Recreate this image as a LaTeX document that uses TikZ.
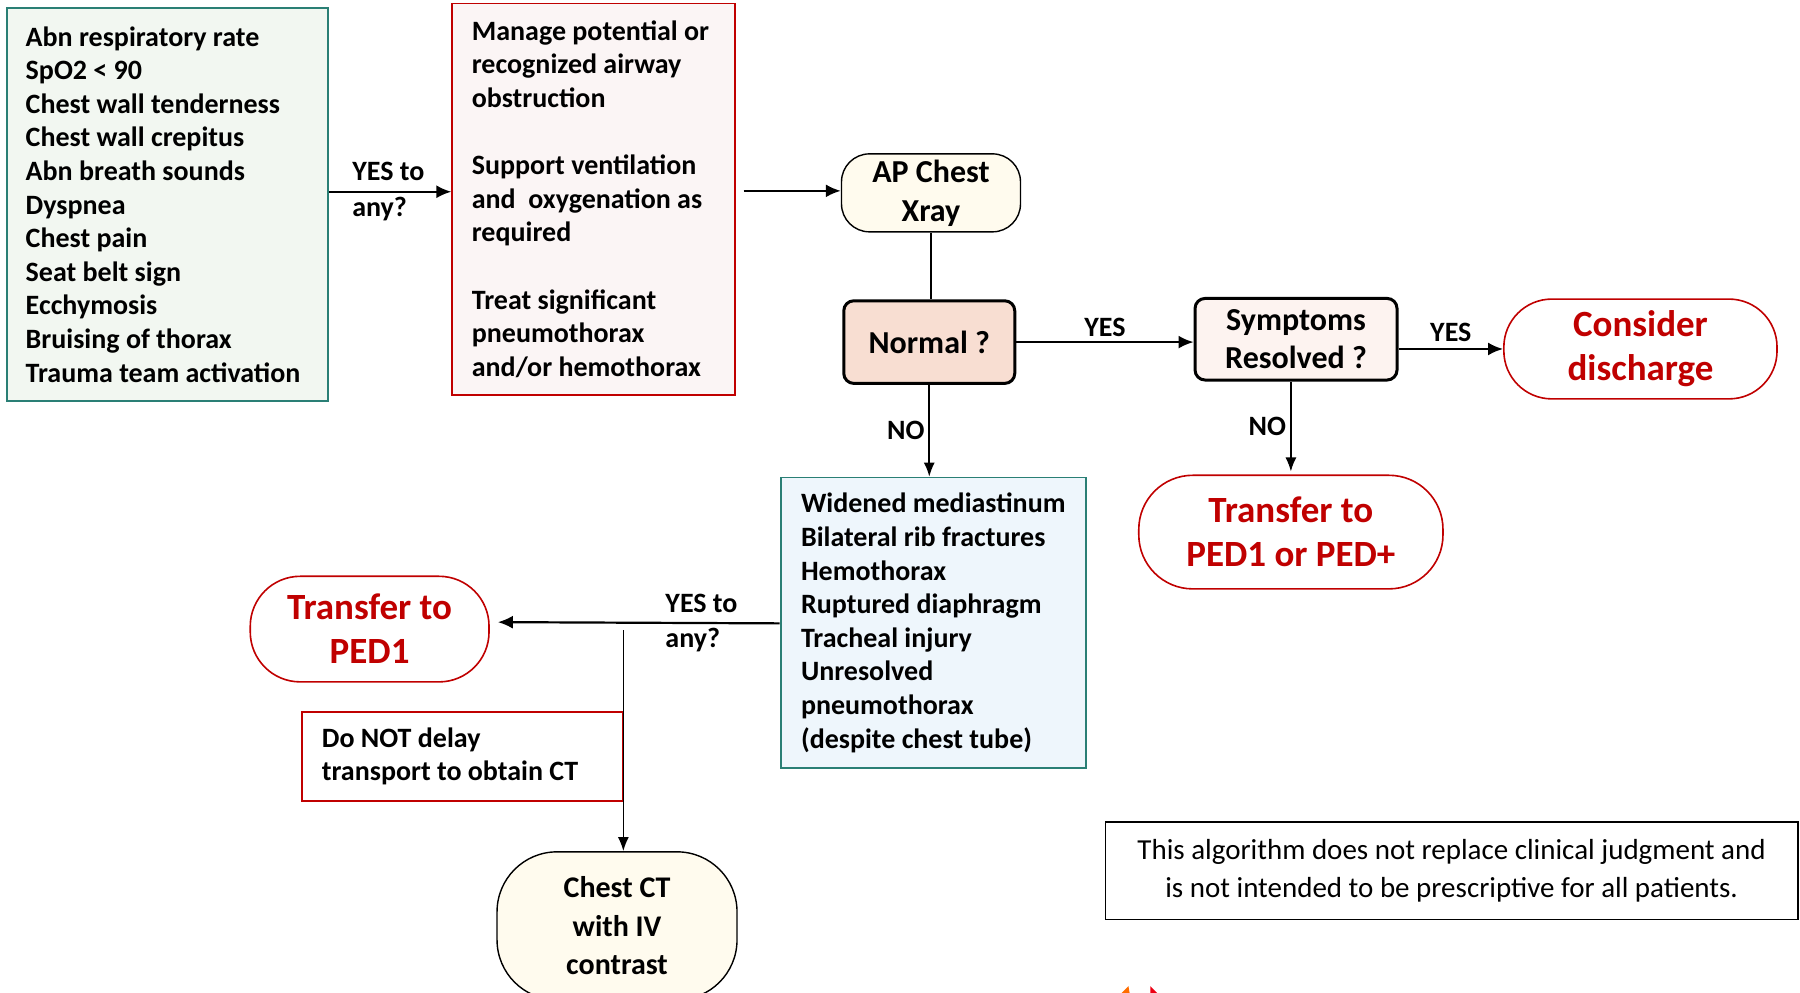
\documentclass[tikz,border=0pt]{standalone}
\usepackage{fontspec}
\setmainfont{Carlito}
\usetikzlibrary{arrows.meta}
\definecolor{tealb}{HTML}{2A7F75}
\definecolor{redb}{HTML}{C00000}
\definecolor{greenf}{HTML}{F2F7F1}
\definecolor{pinkf}{HTML}{FBF5F5}
\definecolor{peachf}{HTML}{F8DED2}
\definecolor{sympf}{HTML}{FDF3F0}
\definecolor{creamf}{HTML}{FFFBEE}
\definecolor{bluef}{HTML}{EEF6FC}
\tikzset{
  listbox/.style={draw=tealb, line width=0.9pt, align=left, font=\bfseries\fontsize{14}{16.8}\selectfont, inner sep=0pt},
  actbox/.style={draw=redb, line width=0.9pt, fill=pinkf, align=left, font=\bfseries\fontsize{14}{16.8}\selectfont, inner sep=0pt},
  termbox/.style={draw=black, line width=0.7pt, fill=creamf, align=center, font=\bfseries\fontsize{16}{19.5}\selectfont, inner sep=0pt},
  decbox/.style={draw=black, line width=1.5pt, rounded corners=5pt, align=center, font=\bfseries\fontsize{16}{19}\selectfont, inner sep=0pt},
  endbox/.style={draw=redb, line width=0.8pt, fill=white, text=redb, align=center, font=\bfseries\fontsize{18.5}{22}\selectfont, inner sep=0pt},
  lbl/.style={font=\bfseries\fontsize{14}{17.8}\selectfont, align=left, inner sep=1pt},
  arr/.style={line width=1.1pt, -{Latex[length=7.5pt,width=6.5pt]}},
  thinarr/.style={line width=0.8pt, -{Latex[length=7pt,width=5.5pt]}},
}
\begin{document}
\begin{tikzpicture}[x=0.574pt, y=-0.574pt]
\useasboundingbox (0,0) rectangle (1568,865);

\node[listbox, fill=greenf, minimum width=160.7pt, minimum height=196.3pt] (signs) at (146,178)
  {Abn respiratory rate\\SpO2 < 90\\Chest wall tenderness\\Chest wall crepitus\\Abn breath sounds\\Dyspnea\\Chest pain\\Seat belt sign\\Ecchymosis\\Bruising of thorax\\Trauma team activation\hspace*{4.5pt}};

\node[actbox, minimum width=141.2pt, minimum height=195.7pt] (act) at (517,173.5)
  {Manage potential or\hspace*{3pt}\\recognized airway\\obstruction\\[16.8pt]Support ventilation\\and\ \ oxygenation as\\required\\[16.8pt]Treat significant\\pneumothorax\\and/or hemothorax};

\node[termbox, rounded corners=14pt, minimum width=89.5pt, minimum height=39pt] (ap) at (811,168) {AP Chest\\Xray};

\node[decbox, fill=peachf, minimum width=85.5pt, minimum height=41.3pt] (normal) at (809.5,298) {Normal ?};

\node[decbox, fill=sympf, minimum width=101pt, minimum height=40.8pt] (symp) at (1129,295.5) {Symptoms\\Resolved ?};

\node[endbox, rounded corners=24pt, minimum width=136.6pt, minimum height=49.9pt] (disch) at (1429,304) {Consider\\discharge};

\node[endbox, rounded corners=27pt, minimum width=152.1pt, minimum height=56.8pt] (ped) at (1124.5,463.5) {Transfer to\\PED1 or PED+};

\node[listbox, fill=bluef, minimum width=152.7pt, minimum height=145.2pt] (find) at (813,542.5)
  {Widened mediastinum\\Bilateral rib fractures\\Hemothorax\\Ruptured diaphragm\\Tracheal injury\\Unresolved\\pneumothorax\\(despite chest tube)};

\node[endbox, rounded corners=25pt, minimum width=119.4pt, minimum height=52.8pt] (ped1) at (322,548) {Transfer to\\PED1};

\node[actbox, fill=white, minimum width=160.7pt, minimum height=44.8pt] (delay) at (403,659) {Do NOT delay\\transport to obtain CT\hspace*{12.6pt}};

\node[termbox, rounded corners=30pt, minimum width=120pt, minimum height=74pt, font=\bfseries\fontsize{15}{19.2}\selectfont] (ct) at (537.5,806.5) {Chest CT\\with IV\\contrast};

\node[draw=black, line width=0.9pt, fill=white, align=center, inner sep=0pt, minimum width=346.1pt, minimum height=48.8pt, font=\fontsize{14.5}{19}\selectfont] (disc) at (1264.5,758.5)
  {This algorithm does not replace clinical judgment and\\is not intended to be prescriptive for all patients.};

% connectors
\draw[arr] ([yshift=6.3pt]signs.east) -- ([yshift=6.3pt]signs.east -| act.west)
  node[lbl, midway, xshift=-1pt] {YES to\\any?};
\draw[arr] ([xshift=4pt,yshift=1pt]ap.west -| act.east) -- ([yshift=1pt]ap.west);
\draw[line width=0.8pt] (ap.south) -- (ap.south |- normal.north);
\draw[arr] (normal.east) -- (normal.east -| symp.west) node[lbl, midway, above=1pt] {YES};
\draw[arr] (symp.east |- disch.west) -- (disch.west) node[lbl, midway, above=2pt] {YES};
\draw[thinarr] (symp.south -| ped.north) -- ([yshift=1.5pt]ped.north) node[lbl, midway, left=1pt] {NO};
\draw[thinarr] (normal.south) -- (normal.south |- find.north) node[lbl, midway, left=1pt] {NO};
\draw[arr, shorten >=4pt] ([yshift=-0.3pt]find.west) -- ([yshift=3.5pt]ped1.east)
  node[lbl, pos=0.27] {YES to\\any?};
\coordinate (br) at (543,549);
\draw[thinarr] (br) -- (br |- ct.north);

% partial logo fragment at bottom edge
\fill[orange!85!red] (977,865) -- (983,859) -- (984,865) -- cycle;
\fill[red!70!purple] (1002,859) -- (1008,865) -- (1002,865) -- cycle;
\end{tikzpicture}
\end{document}
